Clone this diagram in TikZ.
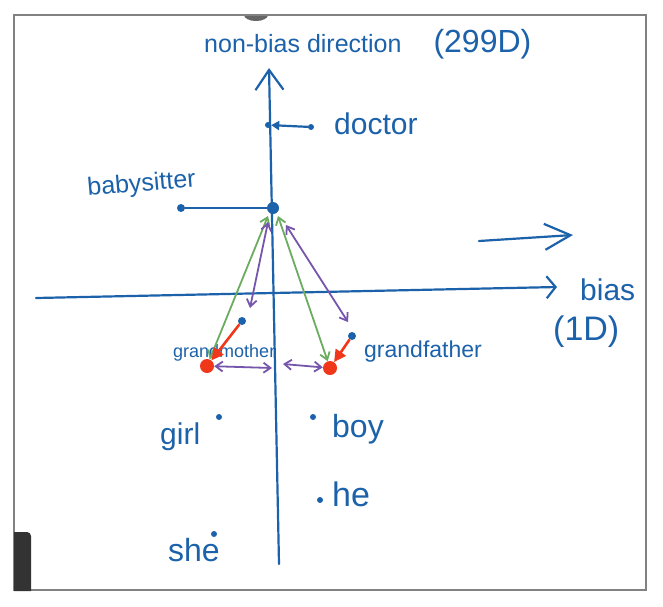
\documentclass[tikz,border=0pt]{standalone}
\usepackage{fontspec}
\setmainfont{Liberation Sans}
\usetikzlibrary{arrows.meta}
\definecolor{ink}{RGB}{28,98,170}
\definecolor{grn}{RGB}{108,172,96}
\definecolor{pur}{RGB}{118,86,172}
\definecolor{rd}{RGB}{240,55,25}
\definecolor{framegray}{RGB}{130,130,130}
\begin{document}
\begin{tikzpicture}[x=1pt,y=-1pt,
  inkline/.style={draw=ink,line width=2.2pt,line cap=round},
  axishead/.style={-{Straight Barb[length=20pt,width=28pt,line width=2.2pt]}},
  grnline/.style={draw=grn,line width=1.8pt,{Straight Barb[length=7pt,width=10pt]}-{Straight Barb[length=7pt,width=10pt]}},
  purline/.style={draw=pur,line width=1.8pt,{Straight Barb[length=7pt,width=10pt]}-{Straight Barb[length=7pt,width=10pt]}},
  redline/.style={draw=rd,line width=2.6pt,-{Triangle[length=12pt,width=12pt]}},
  bigdot/.style={circle,fill=ink,inner sep=0pt,minimum size=12pt},
  middot/.style={circle,fill=ink,inner sep=0pt,minimum size=8pt},
  smalldot/.style={circle,fill=ink,inner sep=0pt,minimum size=6pt},
  reddot/.style={circle,fill=rd,inner sep=0pt,minimum size=14pt},
  lbl/.style={text=ink,inner sep=0pt,anchor=base west},
]
\useasboundingbox (0,0) rectangle (663,606);
\fill[white] (0,0) rectangle (663,606);
% frame
\fill[black!60] (244,15) arc[start angle=180,end angle=360,x radius=12pt,y radius=6pt] -- cycle;
\draw[framegray,line width=2pt] (14,15) rectangle (646,590);
\fill[black!80] (14,591) -- (14,532) -- (27,532) arc[start angle=90,end angle=0,radius=4pt] -- (31,591) -- cycle;

% axes
\coordinate (vbot) at (279,564);
\coordinate (vtop) at (269,68);
\coordinate (hleft) at (36,298);
\coordinate (hright) at (557,287);
\draw[inkline,axishead] (vbot) -- (vtop);
\draw[inkline,-{Straight Barb[length=9pt,width=22pt,line width=2.2pt]}] (hleft) -- (hright);
\coordinate (ra1) at (479,241);
\coordinate (ra2) at (573,235);
\draw[inkline,-{Straight Barb[length=26pt,width=26pt,line width=2.2pt]}] (ra1) -- (ra2);

% labels
\node[lbl] (title) at (204,52) {{\fontsize{25}{30}\selectfont non-bias direction}\hspace{32pt}{\fontsize{32}{38}\selectfont (299D)}};
\node[lbl,font=\fontsize{30}{36}\selectfont] (biasl) at (580,300) {bias};
\node[lbl,font=\fontsize{34}{40}\selectfont] (biasd) at (553,340) {(1D)};

% doctor
\node[smalldot] (docpt) at (268,125) {};
\node[smalldot] (docdot) at (311,127) {};
\draw[inkline,-{Triangle[length=8pt,width=9pt]}] (docdot) -- (docpt);
\node[lbl,font=\fontsize{30}{36}\selectfont] (doctor) at (334,134) {doctor};

% babysitter
\node[middot] (bsdot) at (181,208) {};
\node[bigdot] (hub) at (273,208) {};
\draw[inkline] (bsdot) -- (hub);
\node[lbl,font=\fontsize{25}{30}\selectfont,rotate=5] (bs) at (88,196) {babysitter};

% grandmother / grandfather
\node[middot] (gm) at (242,321) {};
\node[middot] (gf) at (352,336) {};
\node[reddot] (gmr) at (207,366) {};
\node[reddot] (gfr) at (330,368) {};
\node[lbl,font=\fontsize{18}{22}\selectfont] (gml) at (173,357) {grandmother};
\node[lbl,font=\fontsize{23}{28}\selectfont] (gfl) at (364,357) {grandfather};

% green arrows
\coordinate (hubgl) at (268,216);
\coordinate (hubgr) at (278,216);
\draw[grnline] (hubgl) -- (gmr);
\draw[grnline] (hubgr) -- (gfr);

% purple arrows
\coordinate (hubpl) at (268,222);
\coordinate (hubpr) at (286,225);
\coordinate (pl) at (250,308);
\coordinate (pr) at (348,322);
\draw[purline] (hubpl) -- (pl);
\draw[purline] (hubpr) -- (pr);
\coordinate (midl) at (272,368);
\coordinate (midr) at (283,364);
\draw[purline] (gmr) -- (midl);
\draw[purline] (midr) -- (gfr);

% red arrows
\draw[redline] (gm) -- (gmr);
\draw[redline] (gf) -- (gfr);

% other words
\node[smalldot] (girld) at (219,417) {};
\node[lbl,font=\fontsize{30}{36}\selectfont] (girl) at (160,444) {girl};
\node[smalldot] (boyd) at (313,417) {};
\node[lbl,font=\fontsize{32}{38}\selectfont] (boy) at (332,437) {boy};
\node[smalldot] (hed) at (320,500) {};
\node[lbl,font=\fontsize{34}{40}\selectfont] (he) at (332,506) {he};
\node[smalldot] (shed) at (214,534) {};
\node[lbl,font=\fontsize{32}{38}\selectfont] (she) at (168,561) {she};
\end{tikzpicture}
\end{document}
